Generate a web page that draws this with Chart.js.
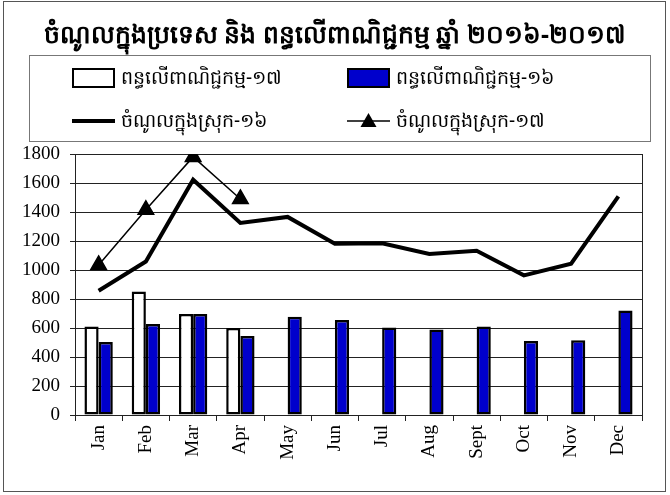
<!DOCTYPE html>
<html>
<head>
<meta charset="utf-8">
<script src="https://cdn.jsdelivr.net/npm/chart.js@4/dist/chart.umd.min.js"></script>
<style>
  html, body { margin:0; padding:0; background:#fff; }
  #page { position:relative; width:670px; height:495px; overflow:hidden; }
  #frame { position:absolute; left:3px; top:1px; width:663px; height:491px; border:1px solid #555; box-sizing:border-box; pointer-events:none; }
  #title { position:absolute; left:0; top:16px; width:670px; text-align:center; font-family:"Noto Sans","DejaVu Sans",sans-serif; font-weight:bold; font-size:25px; color:#000; line-height:34px; }
  #legend { position:absolute; left:29px; top:55px; width:622px; height:87px; border:1px solid #777; box-sizing:border-box; background:#fff; }
  .item { position:absolute; height:30px; display:flex; align-items:center; font-family:"Noto Sans","DejaVu Sans",sans-serif; font-size:19px; color:#000; }
  .sw { width:43px; height:20px; box-sizing:border-box; border:2px solid #000; margin-right:6px; }
  #chartbox { position:absolute; left:0; top:0; width:670px; height:495px; }
</style>
</head>
<body>
<div id="page">
  <div id="chartbox"><canvas id="c" width="670" height="495"></canvas></div>
  <div id="title"></div>
  <div id="legend"></div>
  <div id="frame"></div>
</div>
<script>
const titleText = "ចំណូលក្នុងប្រទេស និង ពន្ធលើពាណិជ្ជកម្ម ឆ្នាំ ២០១៦-២០១៧";
const months = ["Jan","Feb","Mar","Apr","May","Jun","Jul","Aug","Sept","Oct","Nov","Dec"];
const labelTrade17 = "ពន្ធលើពាណិជ្ជកម្ម-១៧";
const labelTrade16 = "ពន្ធលើពាណិជ្ជកម្ម-១៦";
const labelDomestic16 = "ចំណូលក្នុងស្រុក-១៦";
const labelDomestic17 = "ចំណូលក្នុងស្រុក-១៧";
const trade17 = [611, 852, 697, 600, null, null, null, null, null, null, null, null];
const trade16 = [503, 627, 697, 545, 678, 655, 604, 590, 611, 510, 515, 721];
const domestic16 = [857, 1059, 1623, 1324, 1366, 1181, 1184, 1110, 1133, 963, 1043, 1508];
const domestic17 = [1035, 1415, 1780, 1490, null, null, null, null, null, null, null, null];
const yTicks = [0, 200, 400, 600, 800, 1000, 1200, 1400, 1600, 1800];

document.getElementById('title').textContent = titleText;

// legend
const legend = document.getElementById('legend');
function addItem(x, y, swatchHTML, text) {
  const d = document.createElement('div');
  d.className = 'item';
  d.style.left = x + 'px';
  d.style.top = y + 'px';
  d.innerHTML = swatchHTML;
  const s = document.createElement('span');
  s.textContent = text;
  d.appendChild(s);
  legend.appendChild(d);
}
addItem(42, 7, '<div class="sw" style="background:#fff"></div>', labelTrade17);
addItem(317, 7, '<div class="sw" style="background:#0000CC"></div>', labelTrade16);
addItem(42, 50, '<svg width="49" height="20"><line x1="0" y1="10" x2="43" y2="10" stroke="#000" stroke-width="4"/></svg>', labelDomestic16);
addItem(317, 50, '<svg width="49" height="20"><line x1="0" y1="10" x2="43" y2="10" stroke="#000" stroke-width="1.5"/><polygon points="21.5,2 29.5,16 13.5,16" fill="#000"/></svg>', labelDomestic17);

const rightBorder = {
  id: 'rightBorder',
  afterDatasetsDraw(chart) {
    const {ctx, chartArea} = chart;
    ctx.save();
    ctx.strokeStyle = '#222';
    ctx.lineWidth = 1;
    ctx.beginPath();
    ctx.moveTo(chartArea.right + 0.5, chartArea.top);
    ctx.lineTo(chartArea.right + 0.5, chartArea.bottom + 6);
    ctx.stroke();
    ctx.restore();
  }
};

new Chart(document.getElementById('c'), {
  data: {
    labels: months,
    datasets: [
      { type: 'line', label: labelDomestic16, data: domestic16, borderColor: '#000', borderWidth: 4, pointRadius: 0, tension: 0, order: 0 },
      { type: 'line', label: labelDomestic17, data: domestic17, borderColor: '#000', backgroundColor: '#000', borderWidth: 1.5, pointStyle: 'triangle', pointRadius: 9, tension: 0, order: 0, spanGaps: false },
      { type: 'bar', label: labelTrade17, data: trade17, backgroundColor: '#fff', borderColor: '#000', borderWidth: 2.5, borderSkipped: false, order: 1, barPercentage: 1, categoryPercentage: 0.6 },
      { type: 'bar', label: labelTrade16, data: trade16, backgroundColor: '#0000CC', borderColor: '#000', borderWidth: 2.5, borderSkipped: false, order: 1, barPercentage: 1, categoryPercentage: 0.6 }
    ]
  },
  options: {
    responsive: false,
    animation: false,
    layout: { padding: { top: 154, left: 0, right: 28, bottom: 0 } },
    plugins: { legend: { display: false }, title: { display: false }, tooltip: { enabled: false } },
    scales: {
      x: {
        offset: true,
        grid: { offset: true, drawOnChartArea: false, drawTicks: true, tickLength: 6, color: '#222' },
        border: { display: true, color: '#222', width: 1 },
        ticks: { maxRotation: 90, minRotation: 90, padding: 4, color: '#000', font: { family: 'Liberation Serif', size: 19 } },
        afterFit(scale) { scale.height = 80; }
      },
      y: {
        min: 0, max: 1800,
        afterBuildTicks(scale) { scale.ticks = yTicks.map(v => ({ value: v })); },
        grid: { color: '#222', lineWidth: 1, drawTicks: true, tickLength: 5 },
        border: { display: true, color: '#222', width: 1 },
        ticks: { color: '#000', padding: 10, font: { family: 'Liberation Serif', size: 19 }, callback: (v) => String(v) },
        afterFit(scale) { scale.width = 75; }
      }
    }
  },
  plugins: [rightBorder]
});
</script>
</body>
</html>
